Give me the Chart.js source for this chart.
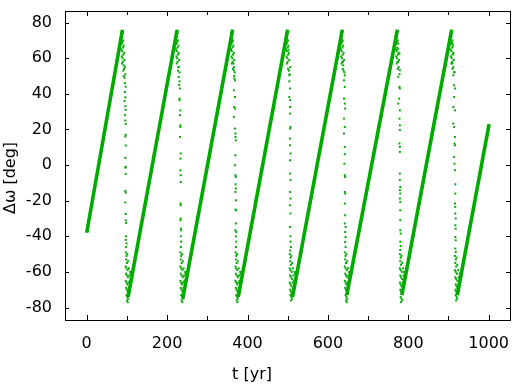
<!DOCTYPE html>
<html>
<head>
<meta charset="utf-8">
<script src="https://cdn.jsdelivr.net/npm/chart.js@4"></script>
<style>
  html, body { margin: 0; padding: 0; background: #fff; }
</style>
</head>
<body>
<canvas id="chart" width="521" height="385"></canvas>
<script>
// ramps (dense band) - start / end of each rising stretch
const rampStartT = [0, 103, 239, 377, 512, 647, 784, 922];
const rampStartV = [-38, -74, -75, -74, -74, -73, -73, -73];
const rampEndT = [89, 225, 363, 500, 636, 773, 908, 1001];
const rampEndV = [76, 76, 76, 76, 76, 76, 76, 23];

// scattered points around each drop
const drop1 = [
  [84,71],[86,74],[88,72],[90,74],[87,68],[89,69],[91,70],[86,65],[88,64],[90,66],[92,67],[87,61],[89,60],[91,62],[93,63],
  [88,57],[90,58],[92,56],[94,59],[91,53],[93,54],[95,55],[92,50],[94,49],[96,51],[95,46],[97,44],
  [95,41],[96,38],[94,36],[96,33],[97,31],[95,28],[96,25],[97,23],[97,17],[96,16],[97,11],[96,4],[97,-1],[96,-1.5],[97,-5],
  [96,-14.5],[97,-15.5],[96,-21],[97,-27.5],[97,-31],[98,-32.5],[98,-40],[97,-42],[99,-44],[98,-46],
  [97,-49],[99,-51],[101,-50],[98,-53],[100,-55],[103,-54],[97,-57],[99,-58],[102,-59],[105,-58],[108,-60],[98,-61],[100,-62],
  [103,-63],[106,-62],[110,-61],[97,-65],[99,-66],[101,-67],[104,-66],[107,-65],[98,-69],[100,-70],[102,-71],[105,-69],
  [99,-73],[101,-74],[103,-75],[100,-76],[102,-77]
];
const drop2 = [
  [220,71],[222,74],[224,72],[226,74],[223,68],[225,69],[227,70],[222,65],[224,64],[226,66],[228,67],[223,61],[225,60],[227,62],
  [229,63],[224,57],[226,58],[228,55],[230,59],[227,53],[229,55],[231,52],[229,49.5],[231,47],[230,45],
  [232,43],[231,37.3],[231,36.4],[233,30.7],[232,28],[233,22.3],[233,21.4],[232,15.8],[234,6.5],[233,3.6],[233,-2.9],[234,-5.7],
  [234,-9.5],[233,-21.6],[234,-22.6],[234,-30],[233,-31],[234,-35.7],[235,-36.6],[234,-40],[235,-43],[234,-46],
  [233,-49],[235,-51],[237,-50],[234,-53],[236,-55],[239,-54],[233,-57],[235,-58],[238,-59],[241,-58],[245,-60],[234,-61],
  [236,-62],[239,-63],[242,-62],[246,-61],[233,-65],[235,-66],[237,-67],[240,-66],[243,-65],[234,-69],[236,-70],[238,-71],
  [241,-69],[235,-73],[237,-74],[239,-75],[236,-76],[238,-77]
];
const drop3 = [
  [357,71],[359,74],[361,72],[363,75],[360,68],[362,69],[364,70],[359,65],[361,64],[363,66],[365,67],[360,61],[362,60],[364,62],
  [366,63],[361,57],[363,58],[367,59],[364,54],[366,55],[368,52],[367,50],
  [365,57],[366,53.2],[367,48.6],[369,47.6],[366,42],[369,38.2],[367,32.6],[369,31.7],[366,27],[369,20.5],[370,17.7],[370,15.8],
  [371,13.9],[370,5.5],[369,-0.1],[370,-5.7],[371,-6.7],[370,-10.8],[371,-13.2],[370,-15.1],[371,-19.8],[370,-25],[372,-25.4],
  [371,-32.8],[370,-36.6],[372,-37.6],[371,-40],[372,-43],[371,-46],
  [370,-49],[372,-51],[374,-50],[371,-53],[373,-55],[376,-54],[370,-57],[372,-58],[375,-59],[378,-58],[382,-60],[371,-61],
  [373,-62],[376,-63],[379,-62],[383,-61],[370,-65],[372,-66],[374,-67],[377,-66],[380,-65],[371,-69],[373,-70],[375,-71],
  [378,-69],[372,-73],[374,-74],[376,-75],[373,-76],[375,-77]
];
const drop4 = [
  [494,71],[496,74],[498,72],[500,75],[497,68],[499,69],[501,70],[496,65],[498,64],[500,66],[502,67],[497,61],[499,60],[501,62],
  [503,63],[498,57],[500,58],[504,59],[501,54],[503,53],[505,51],[504,47],
  [502,64.5],[506,55],[504,50.4],[506,43],[504,38.2],[506,36.4],[506,32.6],[506,28.9],[507,21.4],[506,20.5],[506,14.9],
  [506,11.1],[507,6.5],[506,2.7],[506,-4.8],[507,-8.5],[506,-15.1],[507,-18.8],[506,-22.6],[507,-27.2],[506,-34.8],[507,-40],
  [507,-43],[508,-46],[506,-48],
  [505,-50],[507,-52],[509,-51],[506,-54],[508,-56],[511,-55],[505,-58],[507,-59],[510,-60],[513,-58],[517,-60],[506,-62],
  [508,-63],[511,-64],[514,-62],[518,-61],[505,-66],[507,-67],[509,-68],[512,-66],[515,-65],[506,-70],[508,-71],[510,-72],
  [513,-69],[507,-73],[509,-74],[511,-75],[508,-76]
];
const drop5 = [
  [630,71],[632,74],[634,72],[636,75],[633,68],[635,69],[637,70],[632,65],[634,64],[636,66],[638,67],[633,61],[635,60],[637,62],
  [639,63],[634,57],[636,58],[640,59],[637,54],[639,53],[641,52],
  [637,57.9],[638,56],[642,50.4],[640,47.6],[642,43.9],[640,37.3],[642,34.5],[643,31.7],[640,26.1],[642,21.4],[640,17.7],
  [642,10.2],[642,6.1],[641,0.8],[642,-5.7],[643,-6.7],[642,-15.1],[643,-16],[642,-21.6],[643,-28.2],[642,-32.8],[644,-34.8],
  [643,-37.6],[644,-40.4],[643,-43.2],[644,-46],
  [642,-49],[644,-51],[646,-50],[643,-53],[645,-55],[648,-54],[642,-57],[644,-58],[647,-59],[650,-58],[653,-60],[643,-61],
  [645,-62],[648,-63],[651,-62],[654,-61],[642,-65],[644,-66],[646,-67],[649,-66],[652,-65],[643,-69],[645,-70],[647,-71],
  [650,-69],[644,-73],[646,-74],[648,-75],[645,-76],[647,-77]
];
const drop6 = [
  [767,71],[769,74],[771,72],[773,75],[770,68],[772,69],[774,70],[769,65],[771,64],[773,66],[775,65],[770,61],[772,60],[774,62],
  [776,63],[771,57],[773,58],[777,59],[774,54],[776,55],[778,51],
  [775,68.2],[778,62.6],[775,57.9],[779,53.2],[775,49.5],[778,43.9],[779,43],[777,37.3],[775,34.5],[779,30.7],[778,26.1],
  [779,22.3],[779,19.6],[778,12.1],[779,10.2],[779,7.4],[779,-4.8],[779,-8.5],[780,-12.3],[779,-14.1],[780,-16],[779,-18.8],
  [780,-20.7],[780,-25.4],[780,-31],[780,-36.6],[781,-38.5],[780,-43],[781,-45.5],[780,-47.8],
  [779,-50],[781,-52],[783,-51],[780,-54],[782,-56],[785,-55],[779,-58],[781,-59],[784,-60],[787,-58],[790,-60],[780,-62],
  [782,-63],[785,-64],[788,-62],[791,-61],[779,-66],[781,-67],[783,-68],[786,-66],[789,-65],[780,-70],[782,-71],[784,-72],
  [787,-69],[781,-74],[783,-75],[785,-76],[782,-77]
];
const drop7 = [
  [903,71],[905,74],[907,72],[909,75],[906,68],[908,69],[910,70],[905,65],[907,64],[909,66],[911,67],[906,61],[908,60],[910,62],
  [912,63],[907,57],[909,58],[913,59],[910,54],[912,55],[914,52],
  [910,68.2],[912,62.6],[910,57],[915,52.3],[912,50.4],[914,44.8],[916,43],[914,38.2],[912,32.6],[916,30.7],[912,23.3],
  [914,21.4],[916,15.8],[915,12.1],[916,11.1],[914,4.5],[915,0.8],[916,-2.9],[917,-10.8],[917,-16],[916,-21.6],[917,-23.5],
  [917,-27.2],[918,-30],[917,-33.8],[918,-35.7],[917,-40.4],[918,-42.2],[917,-46.9],[918,-48.8],
  [916,-51],[918,-53],[920,-52],[917,-55],[919,-57],[922,-56],[916,-59],[918,-60],[921,-61],[924,-59],[928,-61],[917,-63],
  [919,-64],[922,-65],[925,-63],[918,-67],[920,-68],[922,-69],[925,-67],[917,-70],[919,-71],[921,-72],[918,-73],[920,-74],
  [922,-75],[919,-76]
];

const xTickVals = [0, 200, 400, 600, 800, 1000];
const xMinorVals = [100, 300, 500, 700, 900];
const yTickVals = [-80, -60, -40, -20, 0, 20, 40, 60, 80];

const GREEN = '#00aa00';
const FONT = '"DejaVu Sans", sans-serif';

const rampSets = rampStartT.map((t0, i) => ({
  type: 'scatter',
  showLine: true,
  data: [{ x: t0, y: rampStartV[i] }, { x: rampEndT[i], y: rampEndV[i] }],
  borderColor: GREEN,
  borderWidth: 3.6,
  borderCapStyle: 'butt',
  pointRadius: 0,
}));

const dots = [drop1, drop2, drop3, drop4, drop5, drop6, drop7].flat().map(([x, y]) => ({ x, y }));

// gnuplot style frame, inward ticks on all sides and axis titles
const framePlugin = {
  id: 'frame',
  afterDraw(chart) {
    const { ctx, chartArea: a, scales: { x, y } } = chart;
    ctx.save();
    ctx.strokeStyle = '#000';
    ctx.lineWidth = 1;
    ctx.beginPath();
    const xt = (v, len) => {
      const px = Math.round(x.getPixelForValue(v)) + 0.5;
      ctx.moveTo(px, a.bottom); ctx.lineTo(px, a.bottom - len);
      ctx.moveTo(px, a.top); ctx.lineTo(px, a.top + len);
    };
    xTickVals.forEach(v => xt(v, 5));
    xMinorVals.forEach(v => xt(v, 4));
    yTickVals.forEach(v => {
      const py = Math.round(y.getPixelForValue(v)) + 0.5;
      ctx.moveTo(a.left, py); ctx.lineTo(a.left + 4, py);
      ctx.moveTo(a.right, py); ctx.lineTo(a.right - 4, py);
    });
    ctx.stroke();
    ctx.strokeRect(Math.round(a.left) + 0.5, Math.round(a.top) + 0.5, Math.round(a.right - a.left), Math.round(a.bottom - a.top));

    ctx.fillStyle = '#000';
    ctx.font = '16px ' + FONT;
    ctx.textAlign = 'center';
    ctx.textBaseline = 'middle';
    ctx.fillText('t [yr]', 252, 375);
    ctx.translate(11, 178);
    ctx.rotate(-Math.PI / 2);
    ctx.fillText('Δω [deg]', 0, 0);
    ctx.restore();
  }
};

new Chart(document.getElementById('chart'), {
  type: 'scatter',
  data: {
    datasets: [
      ...rampSets,
      {
        data: dots,
        backgroundColor: GREEN,
        borderWidth: 0,
        pointStyle: 'rect',
        pointRadius: 1.4,
      },
    ],
  },
  options: {
    responsive: false,
    devicePixelRatio: 1,
    animation: false,
    layout: { padding: { top: 11, right: 11, left: 0, bottom: 0 } },
    plugins: { legend: { display: false }, tooltip: { enabled: false } },
    scales: {
      x: {
        type: 'linear',
        min: -54,
        max: 1053,
        afterBuildTicks: (s) => { s.ticks = xTickVals.map(v => ({ value: v })); },
        afterFit: (s) => { s.height = 65; s.paddingLeft = 0; s.paddingRight = 0; },
        grid: { display: false, drawTicks: false },
        border: { display: false },
        ticks: { color: '#000', padding: 14, maxRotation: 0, callback: (v) => String(v), font: { family: FONT, size: 16 } },
      },
      y: {
        type: 'linear',
        min: -87,
        max: 86.5,
        afterBuildTicks: (s) => { s.ticks = yTickVals.map(v => ({ value: v })); },
        afterFit: (s) => { s.width = 65; s.paddingTop = 0; s.paddingBottom = 0; },
        grid: { display: false, drawTicks: false },
        border: { display: false },
        ticks: { color: '#000', padding: 13, callback: (v) => String(v), font: { family: FONT, size: 16 } },
      },
    },
  },
  plugins: [framePlugin],
});
</script>
</body>
</html>
